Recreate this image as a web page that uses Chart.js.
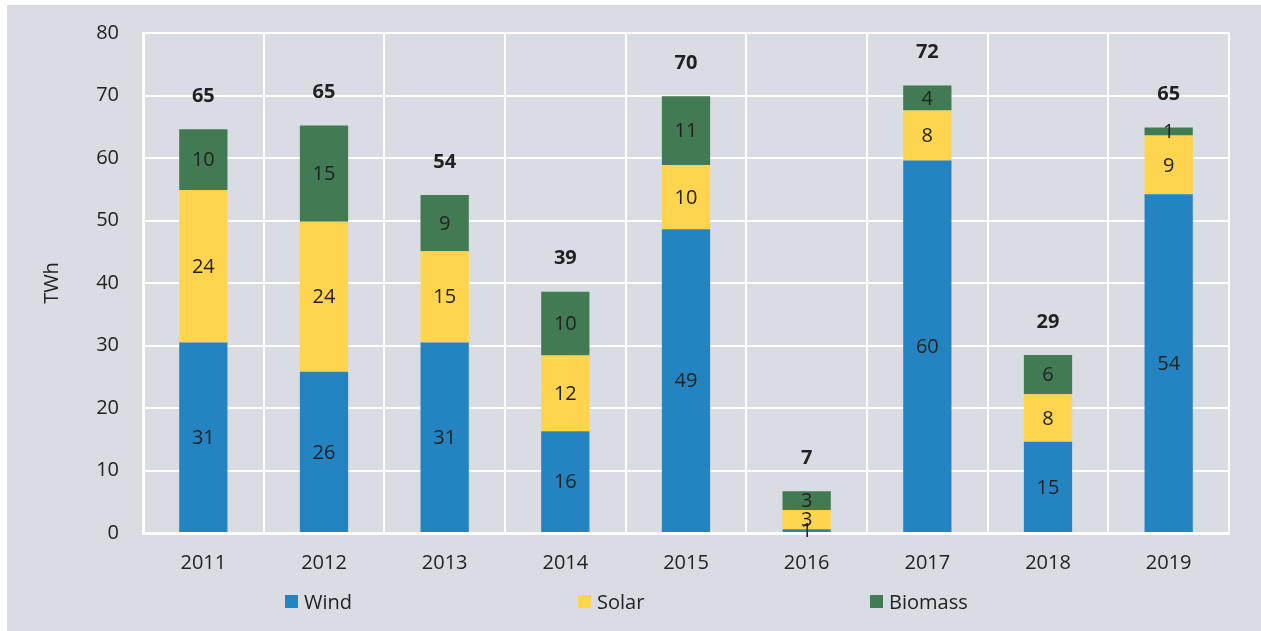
<!DOCTYPE html>
<html>
<head>
<meta charset="utf-8">
<script src="https://cdn.jsdelivr.net/npm/chart.js@4"></script>
<style>
  html, body { margin: 0; padding: 0; background: #ffffff; width: 1261px; height: 631px; overflow: hidden; }
  #wrap { position: absolute; left: 7px; top: 5px; width: 1254px; height: 626px; background: #d9dce3; }
  #legend { position: absolute; left: 0; top: 0; width: 1261px; height: 631px; pointer-events: none; font-family: "Open Sans", sans-serif; font-size: 20px; color: #222; }
  .item { position: absolute; top: 588px; display: flex; align-items: center; }
  .box { width: 13px; height: 13px; margin-right: 6px; }
</style>
</head>
<body>
<div id="wrap"></div>
<canvas id="cv" width="1261" height="631" style="left:0;top:0;position:absolute"></canvas>
<div id="legend"></div>
<script>
const categories = ["2011","2012","2013","2014","2015","2016","2017","2018","2019"];
const wind    = [30.5, 25.8, 30.5, 16.3, 48.6, 0.6, 59.6, 14.6, 54.2];
const solar   = [24.4, 24.0, 14.6, 12.1, 10.3, 3.1, 8.0, 7.6, 9.4];
const biomass = [9.7, 15.4, 9.0, 10.2, 11.0, 3.0, 4.0, 6.3, 1.3];
const seriesNames = ["Wind", "Solar", "Biomass"];
const seriesColors = ["#2484c2", "#ffd54f", "#427a54"];
const yTicks = [0, 10, 20, 30, 40, 50, 60, 70, 80];
const yTitle = "TWh";

const FONT = "'Open Sans', sans-serif";

const labelPlugin = {
  id: 'barLabels',
  afterDatasetsDraw(chart) {
    const ctx = chart.ctx;
    ctx.save();
    ctx.textAlign = 'center';
    ctx.textBaseline = 'middle';
    ctx.fillStyle = '#222222';
    ctx.font = "20px " + FONT;
    chart.data.datasets.forEach((ds, di) => {
      const meta = chart.getDatasetMeta(di);
      meta.data.forEach((bar, i) => {
        const p = bar.getProps(['x', 'y', 'base'], true);
        ctx.fillText(String(Math.round(ds.data[i])), p.x, (p.y + p.base) / 2 + 1);
      });
    });
    const lastMeta = chart.getDatasetMeta(chart.data.datasets.length - 1);
    ctx.font = "bold 20px " + FONT;
    lastMeta.data.forEach((bar, i) => {
      const p = bar.getProps(['x', 'y'], true);
      let total = 0;
      chart.data.datasets.forEach(ds => total += ds.data[i]);
      ctx.fillText(String(Math.round(total)), p.x, p.y - 33);
    });
    ctx.restore();
  }
};

const datasets = [wind, solar, biomass].map((d, i) => ({
  label: seriesNames[i],
  data: d,
  backgroundColor: seriesColors[i],
  borderWidth: 0,
  barPercentage: 0.4,
  categoryPercentage: 1.0
}));

new Chart(document.getElementById('cv'), {
  type: 'bar',
  data: { labels: categories, datasets },
  plugins: [labelPlugin],
  options: {
    responsive: false,
    animation: false,
    devicePixelRatio: 1,
    layout: { padding: { top: 33, right: 32, left: 0, bottom: 0 } },
    plugins: { legend: { display: false }, tooltip: { enabled: false } },
    scales: {
      x: {
        stacked: true,
        grid: { color: '#ffffff', lineWidth: 2, drawTicks: false, offset: true },
        border: { color: '#ffffff', width: 3 },
        ticks: { color: '#222222', font: { family: FONT, size: 20 }, padding: 18 },
        afterFit(s) { s.height = 98; s.paddingLeft = 0; s.paddingRight = 0; }
      },
      y: {
        stacked: true,
        min: 0, max: 80,
        afterBuildTicks(s) { s.ticks = yTicks.map(v => ({ value: v })); },
        grid: { color: '#ffffff', lineWidth: 2, drawTicks: false },
        border: { color: '#ffffff', width: 3 },
        ticks: { color: '#222222', font: { family: FONT, size: 20 }, padding: 24 },
        title: { display: true, text: yTitle, color: '#222222', font: { family: FONT, size: 20 }, padding: { top: 40, bottom: 0 } },
        afterFit(s) { s.width = 143; s.paddingTop = 0; s.paddingBottom = 0; }
      }
    }
  }
});

const legendEl = document.getElementById('legend');
const legendX = [285, 578, 870];
seriesNames.forEach((n, i) => {
  const it = document.createElement('div');
  it.className = 'item';
  it.style.left = legendX[i] + 'px';
  const b = document.createElement('div');
  b.className = 'box';
  b.style.background = seriesColors[i];
  const t = document.createElement('span');
  t.textContent = n;
  it.appendChild(b); it.appendChild(t);
  legendEl.appendChild(it);
});
</script>
</body>
</html>
